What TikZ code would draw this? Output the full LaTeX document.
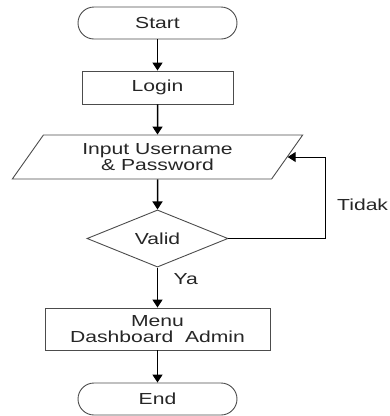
\documentclass[tikz,border=0pt]{standalone}
\usepackage{fontspec}
\setmainfont{Liberation Sans}[FakeStretch=1.32]
\usepackage{tikz}
\usetikzlibrary{shapes.geometric,arrows.meta}

\begin{document}
\begin{tikzpicture}[
	x=1pt, y=-1pt,
	every node/.style={font=\fontsize{16}{16}\selectfont, text=black!85},
	terminal/.style={draw=black!70, line width=0.9pt, rounded corners=16pt, minimum width=159pt, minimum height=32pt, inner sep=0pt},
	process/.style={draw=black!70, line width=0.9pt, minimum height=33pt, inner sep=0pt, align=center},
	io/.style={draw=black!70, line width=0.9pt, trapezium, trapezium left angle=53, trapezium right angle=127, trapezium stretches=true, minimum width=291pt, minimum height=44pt, inner sep=0pt, align=center},
	decision/.style={draw=black!70, line width=0.9pt, diamond, minimum width=141pt, minimum height=53pt, inner sep=0pt},
	flow/.style={line width=1.5pt, -{Triangle[width=10pt,length=8pt]}}
]
\useasboundingbox (0,0) rectangle (390,416);
\node[terminal] (start) at (157.5,23) {Start};
\node[process, minimum width=151pt] (login) at (157.5,87.5) {Login};
\node[io] (input) at (157.5,157) {Input Username\\\& Password};
\node[decision] (valid) at (157.5,238.5) {Valid};
\node[process, minimum width=225pt, minimum height=42pt] (menu) at (157.5,329) {Menu\\Dashboard~~Admin};
\node[terminal] (end) at (157.5,399) {End};
\coordinate (loop) at (325,238.5);

\draw[flow] (start) -- (login);
\draw[flow] (login) -- (input);
\draw[flow] (input) -- (valid);
\draw[flow] (valid) -- node[right=12pt, pos=0.3] (ya) {Ya} (menu);
\draw[flow] (menu) -- (end);
\draw[flow, line width=1pt] (valid.east) -- (loop) |- (input.east);
\node[anchor=west, inner sep=0pt] (tidak) at (337,205) {Tidak};
\end{tikzpicture}
\end{document}
